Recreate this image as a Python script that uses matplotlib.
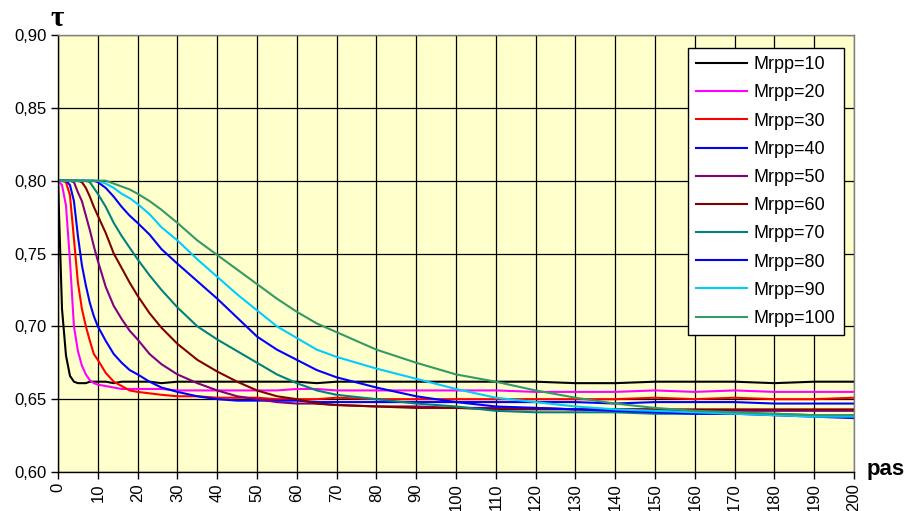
import numpy as np
import matplotlib
matplotlib.use("Agg")
import matplotlib.pyplot as plt

plt.rcParams['font.family'] = ['Liberation Sans', 'DejaVu Sans']

# pas (x) at which values were read off the curves
pas = [0, 1, 2, 3, 4, 5, 6, 7, 8, 9, 10, 12, 14, 16, 18, 20, 23, 26, 30, 35,
       40, 45, 50, 55, 60, 65, 70, 80, 90, 100, 110, 120, 130, 140, 150, 160,
       170, 180, 190, 200]

mrpp_10 = [0.800, 0.712, 0.680, 0.666, 0.662, 0.661, 0.661, 0.661, 0.662, 0.662,
           0.662, 0.662, 0.661, 0.662, 0.662, 0.662, 0.662, 0.661, 0.662, 0.662,
           0.662, 0.662, 0.662, 0.662, 0.662, 0.661, 0.662, 0.662, 0.662, 0.662,
           0.662, 0.662, 0.661, 0.661, 0.662, 0.662, 0.662, 0.661, 0.662, 0.662]
mrpp_20 = [0.800, 0.797, 0.783, 0.745, 0.700, 0.683, 0.673, 0.667, 0.663, 0.661,
           0.660, 0.659, 0.658, 0.657, 0.657, 0.657, 0.657, 0.657, 0.656, 0.656,
           0.656, 0.656, 0.656, 0.656, 0.657, 0.657, 0.656, 0.656, 0.656, 0.656,
           0.656, 0.655, 0.655, 0.655, 0.656, 0.655, 0.656, 0.655, 0.655, 0.655]
mrpp_30 = [0.800, 0.800, 0.799, 0.790, 0.760, 0.730, 0.712, 0.700, 0.690, 0.681,
           0.677, 0.668, 0.662, 0.659, 0.656, 0.655, 0.654, 0.653, 0.652, 0.652,
           0.651, 0.651, 0.651, 0.650, 0.650, 0.650, 0.651, 0.650, 0.650, 0.650,
           0.650, 0.650, 0.650, 0.650, 0.651, 0.650, 0.651, 0.650, 0.650, 0.651]
mrpp_40 = [0.800, 0.800, 0.800, 0.797, 0.786, 0.762, 0.742, 0.728, 0.716, 0.707,
           0.700, 0.690, 0.681, 0.675, 0.670, 0.667, 0.662, 0.658, 0.655, 0.652,
           0.650, 0.649, 0.649, 0.649, 0.649, 0.648, 0.648, 0.648, 0.648, 0.648,
           0.648, 0.648, 0.648, 0.647, 0.648, 0.648, 0.648, 0.647, 0.647, 0.647]
mrpp_50 = [0.800, 0.800, 0.800, 0.800, 0.799, 0.792, 0.786, 0.776, 0.766, 0.755,
           0.745, 0.727, 0.714, 0.705, 0.697, 0.691, 0.681, 0.674, 0.667, 0.661,
           0.656, 0.652, 0.650, 0.648, 0.647, 0.647, 0.646, 0.645, 0.645, 0.644,
           0.644, 0.644, 0.643, 0.643, 0.643, 0.642, 0.642, 0.642, 0.642, 0.642]
mrpp_60 = [0.800, 0.800, 0.800, 0.800, 0.800, 0.800, 0.799, 0.795, 0.789, 0.782,
           0.776, 0.764, 0.750, 0.740, 0.730, 0.721, 0.709, 0.699, 0.688, 0.677,
           0.669, 0.662, 0.656, 0.652, 0.650, 0.647, 0.646, 0.645, 0.644, 0.644,
           0.643, 0.643, 0.643, 0.643, 0.643, 0.643, 0.643, 0.643, 0.643, 0.643]
mrpp_70 = [0.800, 0.800, 0.800, 0.800, 0.800, 0.800, 0.800, 0.800, 0.799, 0.795,
           0.791, 0.782, 0.771, 0.762, 0.754, 0.746, 0.735, 0.725, 0.713, 0.700,
           0.691, 0.683, 0.675, 0.667, 0.661, 0.656, 0.653, 0.650, 0.647, 0.645,
           0.642, 0.641, 0.641, 0.641, 0.640, 0.640, 0.640, 0.640, 0.639, 0.639]
mrpp_80 = [0.800, 0.800, 0.800, 0.800, 0.800, 0.800, 0.800, 0.800, 0.800, 0.800,
           0.799, 0.795, 0.789, 0.782, 0.776, 0.771, 0.763, 0.753, 0.743, 0.731,
           0.719, 0.706, 0.693, 0.684, 0.677, 0.670, 0.665, 0.658, 0.652, 0.648,
           0.645, 0.644, 0.643, 0.642, 0.641, 0.640, 0.640, 0.639, 0.638, 0.637]
mrpp_90 = [0.800, 0.800, 0.800, 0.800, 0.800, 0.800, 0.800, 0.800, 0.800, 0.800,
           0.800, 0.798, 0.795, 0.791, 0.788, 0.784, 0.777, 0.768, 0.759, 0.746,
           0.734, 0.722, 0.711, 0.700, 0.692, 0.684, 0.679, 0.671, 0.664, 0.657,
           0.651, 0.648, 0.645, 0.643, 0.642, 0.641, 0.640, 0.639, 0.638, 0.638]
mrpp_100 = [0.800, 0.800, 0.800, 0.800, 0.800, 0.800, 0.800, 0.800, 0.800, 0.800,
            0.800, 0.800, 0.798, 0.796, 0.794, 0.791, 0.786, 0.780, 0.771, 0.759,
            0.749, 0.739, 0.729, 0.719, 0.710, 0.702, 0.696, 0.684, 0.675, 0.667,
            0.662, 0.656, 0.651, 0.647, 0.644, 0.642, 0.641, 0.640, 0.639, 0.639]

series = [mrpp_10, mrpp_20, mrpp_30, mrpp_40, mrpp_50,
          mrpp_60, mrpp_70, mrpp_80, mrpp_90, mrpp_100]
labels = ['Mrpp=10', 'Mrpp=20', 'Mrpp=30', 'Mrpp=40', 'Mrpp=50',
          'Mrpp=60', 'Mrpp=70', 'Mrpp=80', 'Mrpp=90', 'Mrpp=100']
colors = ['#000000', '#FF00FF', '#FF0000', '#0000FF', '#800080',
          '#800000', '#008080', '#0000FF', '#00CCFF', '#339966']

xticks = list(range(0, 201, 10))
yticks = [0.60, 0.65, 0.70, 0.75, 0.80, 0.85, 0.90]
ytick_labels = ['0,60', '0,65', '0,70', '0,75', '0,80', '0,85', '0,90']

fig = plt.figure(figsize=(9.08, 5.11), dpi=100)
ax = fig.add_axes([0.0639, 0.0763, 0.8766, 0.8552])
ax.set_facecolor('#FFFFCC')

for vals, lab, col in zip(series, labels, colors):
    ax.plot(pas, vals, color=col, lw=1.5, label=lab)

ax.set_xlim(0, 200)
ax.set_ylim(0.60, 0.90)
ax.set_xticks(xticks)
ax.set_xticklabels([str(t) for t in xticks], rotation=90, fontsize=12)
ax.set_yticks(yticks)
ax.set_yticklabels(ytick_labels, fontsize=12)
ax.tick_params(direction='out', length=5, width=1, color='black', pad=3)
ax.grid(True, color='black', lw=0.9)
ax.set_axisbelow(True)

for s in ['left', 'bottom']:
    ax.spines[s].set_color('black')
    ax.spines[s].set_linewidth(1)
for s in ['top', 'right']:
    ax.spines[s].set_color('#808080')
    ax.spines[s].set_linewidth(1)

leg = ax.legend(loc='upper left', bbox_to_anchor=(0.7915, 0.97), borderaxespad=0,
                fontsize=13, frameon=True, fancybox=False, handlelength=2.8,
                handletextpad=0.4, labelspacing=0.62, borderpad=0.45)
leg.get_frame().set_edgecolor('black')
leg.get_frame().set_linewidth(1)
leg.get_frame().set_facecolor('white')
leg.get_frame().set_alpha(1)

fig.text(57 / 908, 1 - 18 / 511, 'τ', fontsize=21, fontweight='bold',
         family=['Liberation Serif', 'DejaVu Serif'], ha='center', va='center')
fig.text(886 / 908, 1 - 469 / 511, 'pas', fontsize=16, fontweight='bold',
         ha='center', va='center')

fig.savefig('out.png', dpi=100)
